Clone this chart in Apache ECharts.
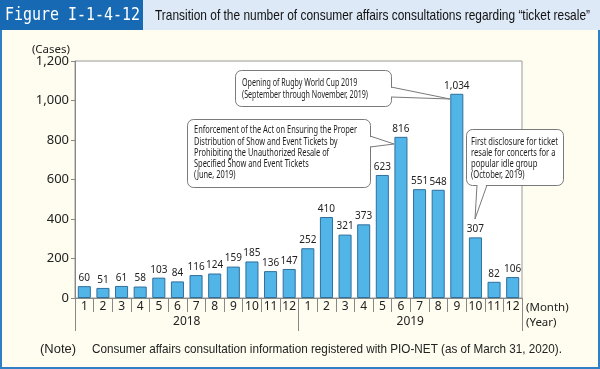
<!DOCTYPE html>
<html><head><meta charset="utf-8">
<script src="https://cdn.jsdelivr.net/npm/echarts@6/dist/echarts.min.js"></script>
<style>html,body{margin:0;padding:0;background:#fffdf0}#c{width:600px;height:369px}</style>
</head><body><div id="c"></div>
<script>
// ---- data ----
const months = ['1','2','3','4','5','6','7','8','9','10','11','12','1','2','3','4','5','6','7','8','9','10','11','12'];
const years = ['2018','2019'];
const cases = [60,51,61,58,103,84,116,124,159,185,136,147,252,410,321,373,623,816,551,548,1034,307,82,106];
const yMin = 0, yMax = 1200, yStep = 200;
const figureLabel = 'Figure I-1-4-12';
const titleText = 'Transition of the number of consumer affairs consultations regarding \u201cticket resale\u201d';
const noteHead = '(Note)';
const noteText = 'Consumer affairs consultation information registered with PIO-NET (as of March 31, 2020).';
const callout1 = ['Opening of Rugby World Cup 2019','(September through November, 2019)'];
const callout2 = ['Enforcement of the Act on Ensuring the Proper','Distribution of Show and Event Tickets by','Prohibiting the Unauthorized Resale of','Specified Show and Event Tickets','(June, 2019)'];
const callout3 = ['First disclosure for ticket','resale for concerts for a','popular idle group','(October, 2019)'];

// ---- helpers ----
const mctx = document.createElement('canvas').getContext('2d');
function tw(t, font){ mctx.font = font; return mctx.measureText(t).width; }
function fitText(t, x, y, w, size, fam, color, align){
  const font = size + 'px ' + fam;
  const s = w / tw(t, font);
  return {type:'text', x:x, y:y, scaleX:s, z:120,
    style:{text:t, font:font, fill:color, textAlign:align||'left', textVerticalAlign:'middle'}};
}
function callout(box, lines, lx, ly0, lh, longestW, wedgeFill, wedgeLines){
  const fam = '"Noto Sans", sans-serif';
  const font = '11.5px ' + fam;
  let maxW = 0; lines.forEach(l=>{ maxW = Math.max(maxW, tw(l, font)); });
  const s = longestW / maxW;
  const els = [];
  els.push({type:'rect', z:100, shape:{x:box[0]+0.5,y:box[1]+0.5,width:box[2],height:box[3],r:6},
    style:{fill:'#fff', stroke:'#7a7a7a', lineWidth:1}});
  els.push({type:'polygon', z:101, shape:{points:wedgeFill}, style:{fill:'#fff', stroke:null}});
  wedgeLines.forEach(p=>els.push({type:'polyline', z:102, shape:{points:p}, style:{stroke:'#7a7a7a', lineWidth:1, fill:null}}));
  lines.forEach((l,i)=>els.push({type:'text', z:103, x:lx, y:ly0 + i*lh, scaleX:s,
    style:{text:l, font:font, fill:'#222', textAlign:'left', textVerticalAlign:'middle'}}));
  return els;
}

const chart = echarts.init(document.getElementById('c'), null, {renderer:'canvas'});
const labelFam = '"Noto Sans", sans-serif';
const graphics = [
  {type:'rect', z:50, shape:{x:1,y:1,width:598,height:367}, style:{fill:null, stroke:'#2f7fc6', lineWidth:2}},
  {type:'rect', z:51, shape:{x:143,y:0,width:457,height:30}, style:{fill:'#dde9f7'}},
  {type:'rect', z:51, shape:{x:0,y:0,width:143,height:30}, style:{fill:'#1769b3'}},
  fitText(figureLabel, 5, 15.5, 135, 18, '"DejaVu Sans Mono", monospace', '#fff'),
  fitText(titleText, 155, 16, 435, 15, '"Liberation Sans", sans-serif', '#111'),
  fitText(noteHead, 40, 349, 36, 13, '"Liberation Sans", sans-serif', '#222'),
  fitText(noteText, 92, 349, 470, 13, '"Liberation Sans", sans-serif', '#222'),
  {type:'text', z:100, x:70, y:50, style:{text:'(Cases)', font:'11.5px '+labelFam, fill:'#222', textAlign:'right', textVerticalAlign:'middle'}},
  {type:'text', z:100, x:526, y:308, style:{text:'(Month)', font:'11.5px '+labelFam, fill:'#222', textAlign:'left', textVerticalAlign:'middle'}},
  {type:'text', z:100, x:526, y:323, style:{text:'(Year)', font:'11.5px '+labelFam, fill:'#222', textAlign:'left', textVerticalAlign:'middle'}}
]
.concat(callout([235,70,156,36], callout1, 242, 82.5, 12, 126,
  [[388,87],[450,99],[388,97]], [[[391,87],[450,99]],[[391,97],[450,99]]]))
.concat(callout([187,119,183,68], callout2, 194, 130, 11.3, 163,
  [[367,136],[394,144],[367,147]], [[[370,136],[394,144]],[[370,147],[394,144]]]))
.concat(callout([466,129,97,56], callout3, 471, 141.5, 11, 87,
  [[477,182],[475,219],[487,182]], [[[477,185],[475,219]],[[487,185],[475,219]]]));

chart.setOption({
  animation:false,
  backgroundColor:'#fffdf0',
  graphic: graphics,
  grid:{left:75, right:78, top:61, bottom:71, show:true, backgroundColor:'#fff', borderColor:'#999', borderWidth:1},
  xAxis:[
    {type:'category', data:months, position:'bottom', boundaryGap:true,
     axisLine:{lineStyle:{color:'#888'}},
     axisTick:{show:true, interval:0, length:14, lineStyle:{color:'#888'}},
     axisLabel:{interval:0, margin:3, fontSize:12, fontFamily:labelFam, color:'#222'}},
    {type:'category', data:years, position:'bottom', boundaryGap:true,
     axisLine:{show:false},
     axisTick:{show:true, interval:0, length:33, lineStyle:{color:'#888'}},
     axisLabel:{interval:0, margin:18, fontSize:12, fontFamily:labelFam, color:'#222'}}
  ],
  yAxis:{type:'value', min:yMin, max:yMax, interval:yStep,
    axisLine:{show:true, lineStyle:{color:'#888'}},
    axisTick:{show:true, length:4, lineStyle:{color:'#888'}},
    splitLine:{show:false},
    axisLabel:{margin:6, fontSize:13, fontFamily:labelFam, color:'#222',
      formatter:v=>v.toLocaleString('en-US')}},
  series:[{type:'bar', xAxisIndex:0, data:cases, barWidth:'70%',
    itemStyle:{color:'#52b5e8', borderColor:'#2f6f9c', borderWidth:1},
    label:{show:true, position:'top', distance:3, fontSize:10, fontFamily:labelFam, color:'#222',
      formatter:p=>p.value.toLocaleString('en-US')}}]
});
</script></body></html>
